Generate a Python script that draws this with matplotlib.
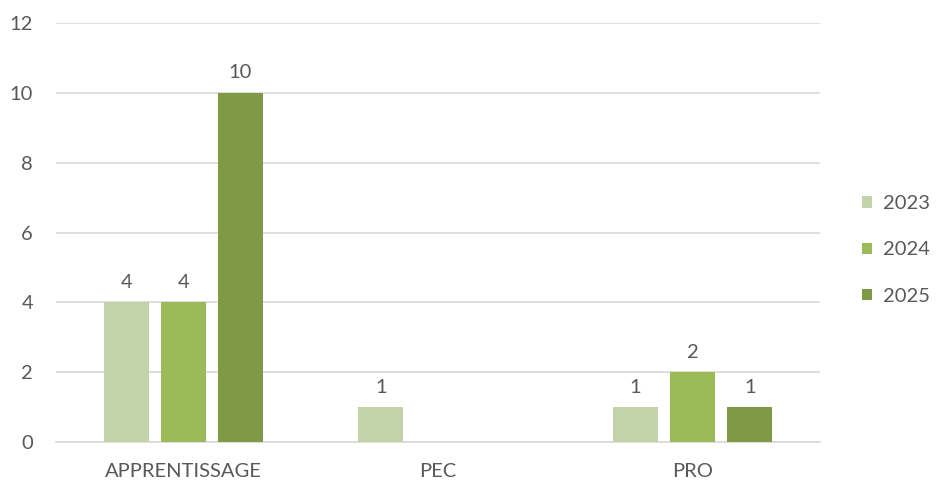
import matplotlib
matplotlib.use("Agg")
import matplotlib.pyplot as plt
import numpy as np

categories = ["APPRENTISSAGE", "PEC", "PRO"]
series_names = ["2023", "2024", "2025"]
v2023 = [4, 1, 1]
v2024 = [4, 0, 2]
v2025 = [10, 0, 1]
colors = ["#C3D3A9", "#9BBB59", "#7E9A45"]

plt.rcParams['font.family'] = ['Lato', 'DejaVu Sans']
txt = "#595959"
fs = 14.5

fig = plt.figure(figsize=(9.36, 4.96), dpi=100)
ax = fig.add_axes([56/936, 54/496, (820-56)/936, (442-23)/496])

x = np.arange(len(categories))
width = 0.177
offset = 0.224
for i, (name, vals) in enumerate(zip(series_names, [v2023, v2024, v2025])):
    pos = x + (i - 1) * offset
    ax.bar(pos, vals, width, color=colors[i], label=name, zorder=3)
    for xp, v in zip(pos, vals):
        if v != 0:
            ax.text(xp, v + 0.33, str(v), ha="center", va="bottom", fontsize=fs, color=txt)

ax.set_xlim(-0.5, 2.5)
ax.set_ylim(0, 12)
ax.set_yticks(range(0, 13, 2))
ax.set_xticks(x)
ax.set_xticklabels(categories)
ax.tick_params(axis="both", length=0, labelsize=fs, labelcolor=txt)
ax.tick_params(axis="y", pad=16.5)
ax.tick_params(axis="x", pad=15)
ax.grid(axis="y", color="#D9D9D9", linewidth=1.2, zorder=0)
for s in ["top", "right", "left"]:
    ax.spines[s].set_visible(False)
ax.spines["bottom"].set_color("#D9D9D9")
ax.spines["bottom"].set_linewidth(1.2)

leg = fig.legend(loc="center left", bbox_to_anchor=(862/936, 1 - 250/496), frameon=False,
                 fontsize=fs, handlelength=0.5, handleheight=0.5, labelspacing=1.45,
                 handletextpad=0.55, borderpad=0, borderaxespad=0)
for t in leg.get_texts():
    t.set_color(txt)

fig.savefig("out.png", dpi=100)
